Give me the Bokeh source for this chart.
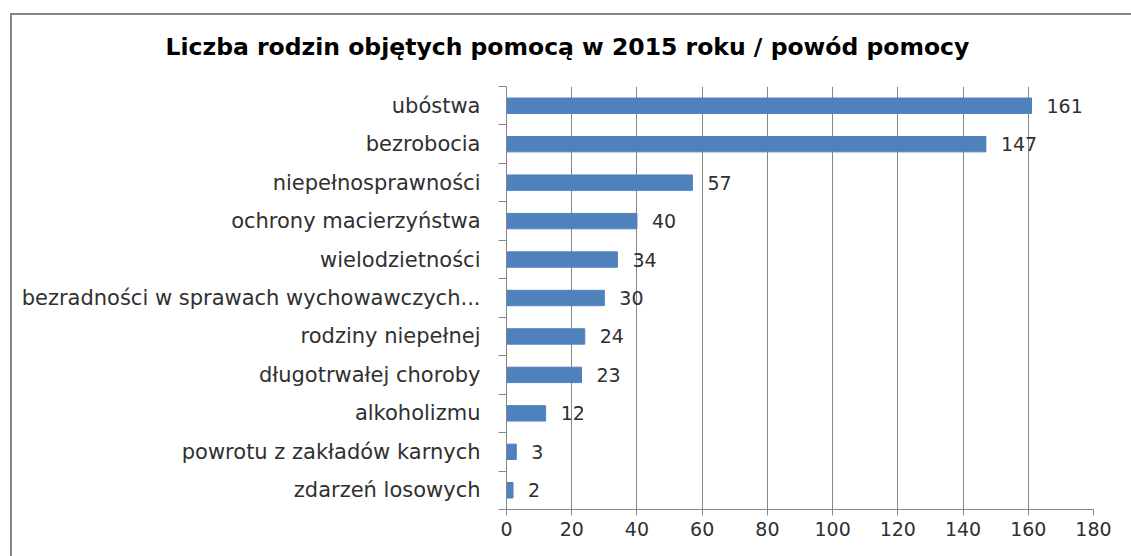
from bokeh.plotting import figure
from bokeh.models import Range1d, FixedTicker, ColumnDataSource, LabelSet
from bokeh.core.properties import value
from bokeh.embed import file_html
from bokeh.resources import INLINE

categories = ["ubóstwa", "bezrobocia", "niepełnosprawności", "ochrony macierzyństwa",
              "wielodzietności", "bezradności w sprawach wychowawczych...",
              "rodziny niepełnej", "długotrwałej choroby", "alkoholizmu",
              "powrotu z zakładów karnych", "zdarzeń losowych"]
values = [161, 147, 57, 40, 34, 30, 24, 23, 12, 3, 2]
x_ticks = [0, 20, 40, 60, 80, 100, 120, 140, 160, 180]
title_text = "Liczba rodzin objętych pomocą  w 2015 roku  / powód pomocy"

FONT = "DejaVu Sans"
GRAY = "#868686"
TXT = "#303030"
CAT_SIZE = "21px"
VAL_SIZE = "19px"

n = len(categories)
ypos = [n - 1 - i for i in range(n)]
src = ColumnDataSource(dict(y=ypos, v=values, lab=[str(v) for v in values]))

p = figure(width=1131, height=556, output_backend="svg", toolbar_location=None,
           x_range=Range1d(0, 180), y_range=Range1d(-0.5, n - 0.5),
           min_border_left=506, min_border_right=38, min_border_top=86, min_border_bottom=47)
# outer chart frame (its right and bottom sides lie beyond the picture)
p.styles = {
    "background": ("linear-gradient(#868686, #868686) 10px 13px / 100% 2px no-repeat, "
                   "linear-gradient(#868686, #868686) 10px 13px / 2px 100% no-repeat"),
}
p.outline_line_color = None
p.background_fill_color = "white"
p.border_fill_color = None

p.title.text = title_text
p.title.align = "left"
p.title.offset = -341
p.title.text_font = FONT
p.title.text_font_size = "23.5px"
p.title.text_font_style = "bold"
p.title.text_color = "black"
p.title.standoff = 51

p.hbar(y="y", right="v", left=0, height=0.4, source=src, color="#4F81BD")
p.add_layout(LabelSet(x="v", y="y", text="lab", source=src, x_offset=15,
                      text_baseline="middle", text_font=value(FONT),
                      text_font_size=value(VAL_SIZE), text_color=TXT))

p.xaxis.ticker = FixedTicker(ticks=x_ticks)
p.xaxis.axis_line_color = GRAY
p.xaxis.major_tick_line_color = GRAY
p.xaxis.major_tick_out = 6
p.xaxis.major_tick_in = 0
p.xaxis.minor_tick_line_color = None
p.xaxis.major_label_text_font = FONT
p.xaxis.major_label_text_font_size = VAL_SIZE
p.xaxis.major_label_text_color = TXT
p.xaxis.major_label_standoff = 6

p.yaxis.ticker = FixedTicker(ticks=ypos, minor_ticks=[y - 0.5 for y in range(n + 1)])
p.yaxis.major_label_overrides = {y: c for y, c in zip(ypos, categories)}
p.yaxis.axis_line_color = GRAY
p.yaxis.major_tick_line_color = None
p.yaxis.major_tick_out = 0
p.yaxis.major_tick_in = 0
p.yaxis.minor_tick_line_color = GRAY
p.yaxis.minor_tick_out = 8
p.yaxis.minor_tick_in = 0
p.yaxis.major_label_text_font = FONT
p.yaxis.major_label_text_font_size = CAT_SIZE
p.yaxis.major_label_text_color = TXT
p.yaxis.major_label_standoff = 18

p.xgrid.ticker = FixedTicker(ticks=x_ticks)
p.xgrid.grid_line_color = GRAY
p.ygrid.grid_line_color = None

open("out.html", "w").write(file_html(p, INLINE))
